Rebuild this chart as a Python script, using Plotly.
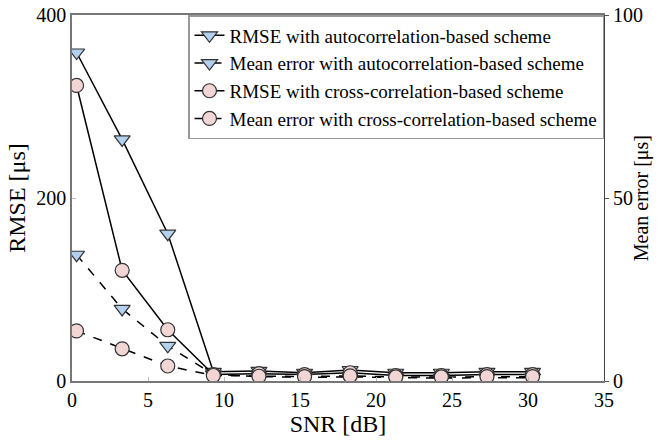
import plotly.graph_objects as go

snr = [0.3, 3.3, 6.3, 9.3, 12.3, 15.3, 18.3, 21.3, 24.3, 27.3, 30.3]
rmse_auto = [359, 264, 161, 10, 11, 9, 12, 9, 9, 10, 10]
mean_auto = [34.5, 19.7, 9.6, 1.8, 1.2, 1.0, 1.1, 0.9, 0.8, 0.9, 0.9]
rmse_cross = [323, 121, 56, 7, 8, 7, 9, 6, 6, 7, 7]
mean_cross = [13.7, 8.8, 4.1, 1.5, 1.3, 1.2, 1.4, 1.1, 1.1, 1.2, 1.2]

names = [
    "RMSE with autocorrelation-based scheme",
    "Mean error with autocorrelation-based scheme",
    "RMSE with cross-correlation-based scheme",
    "Mean error with cross-correlation-based scheme",
]

blue = "#b3d0ee"
pink = "#f2d6d6"
edge = "#333333"
font = "Liberation Serif"

fig = go.Figure()
fig.add_trace(go.Scatter(x=snr, y=rmse_auto, name=names[0], mode="lines+markers",
                         line=dict(color="black", width=1.5),
                         marker=dict(symbol="triangle-down", size=14, color=blue, line=dict(color=edge, width=1.2))))
fig.add_trace(go.Scatter(x=snr, y=mean_auto, name=names[1], mode="lines+markers", yaxis="y2",
                         line=dict(color="black", width=1.5, dash="dash"),
                         marker=dict(symbol="triangle-down", size=14, color=blue, line=dict(color=edge, width=1.2))))
fig.add_trace(go.Scatter(x=snr, y=rmse_cross, name=names[2], mode="lines+markers",
                         line=dict(color="black", width=1.5),
                         marker=dict(symbol="circle", size=14, color=pink, line=dict(color=edge, width=1.2))))
fig.add_trace(go.Scatter(x=snr, y=mean_cross, name=names[3], mode="lines+markers", yaxis="y2",
                         line=dict(color="black", width=1.5, dash="dash"),
                         marker=dict(symbol="circle", size=14, color=pink, line=dict(color=edge, width=1.2))))

axcol = "#777777"
fig.update_layout(
    width=666, height=441,
    margin=dict(l=72, r=62, t=15, b=60, autoexpand=False),
    plot_bgcolor="white", paper_bgcolor="white",
    font=dict(family=font, size=20, color="black"),
    showlegend=True,
    legend=dict(x=1, xanchor="right", y=1, yanchor="top",
                bgcolor="white", bordercolor="#999999", borderwidth=1.5,
                font=dict(family=font, size=19, color="black"),
                tracegroupgap=0, itemwidth=30),
    xaxis=dict(range=[0, 35], tickvals=[0, 5, 10, 15, 20, 25, 30, 35], automargin=False,
               title=dict(text="SNR [dB]", standoff=4),
               showgrid=False, zeroline=False, showline=True, linecolor=axcol, linewidth=1.5,
               mirror=True, ticks="inside", ticklen=4, tickcolor="#bbbbbb"),
    yaxis=dict(range=[0, 400], tickvals=[0, 200, 400], automargin=False,
               title=dict(text="RMSE [μs]", standoff=4),
               showgrid=False, zeroline=False, showline=True, linecolor=axcol, linewidth=1.5,
               ticks="inside", ticklen=4, tickcolor="#bbbbbb"),
    yaxis2=dict(range=[0, 100], tickvals=[0, 50, 100], overlaying="y", side="right", automargin=False,
                showgrid=False, zeroline=False, showline=True, linecolor="#444444", linewidth=1.2,
                ticks="outside", ticklen=4, tickcolor="#555555"),
    annotations=[dict(text="Mean error [μs]", xref="paper", yref="paper", x=1.07, y=0.5,
                      textangle=-90, showarrow=False, xanchor="center", yanchor="middle",
                      font=dict(family=font, size=20, color="black"))],
)

fig.write_html("out.html", config={"displayModeBar": False},
               post_script="document.body.style.margin='0';document.body.style.overflow='hidden';")
